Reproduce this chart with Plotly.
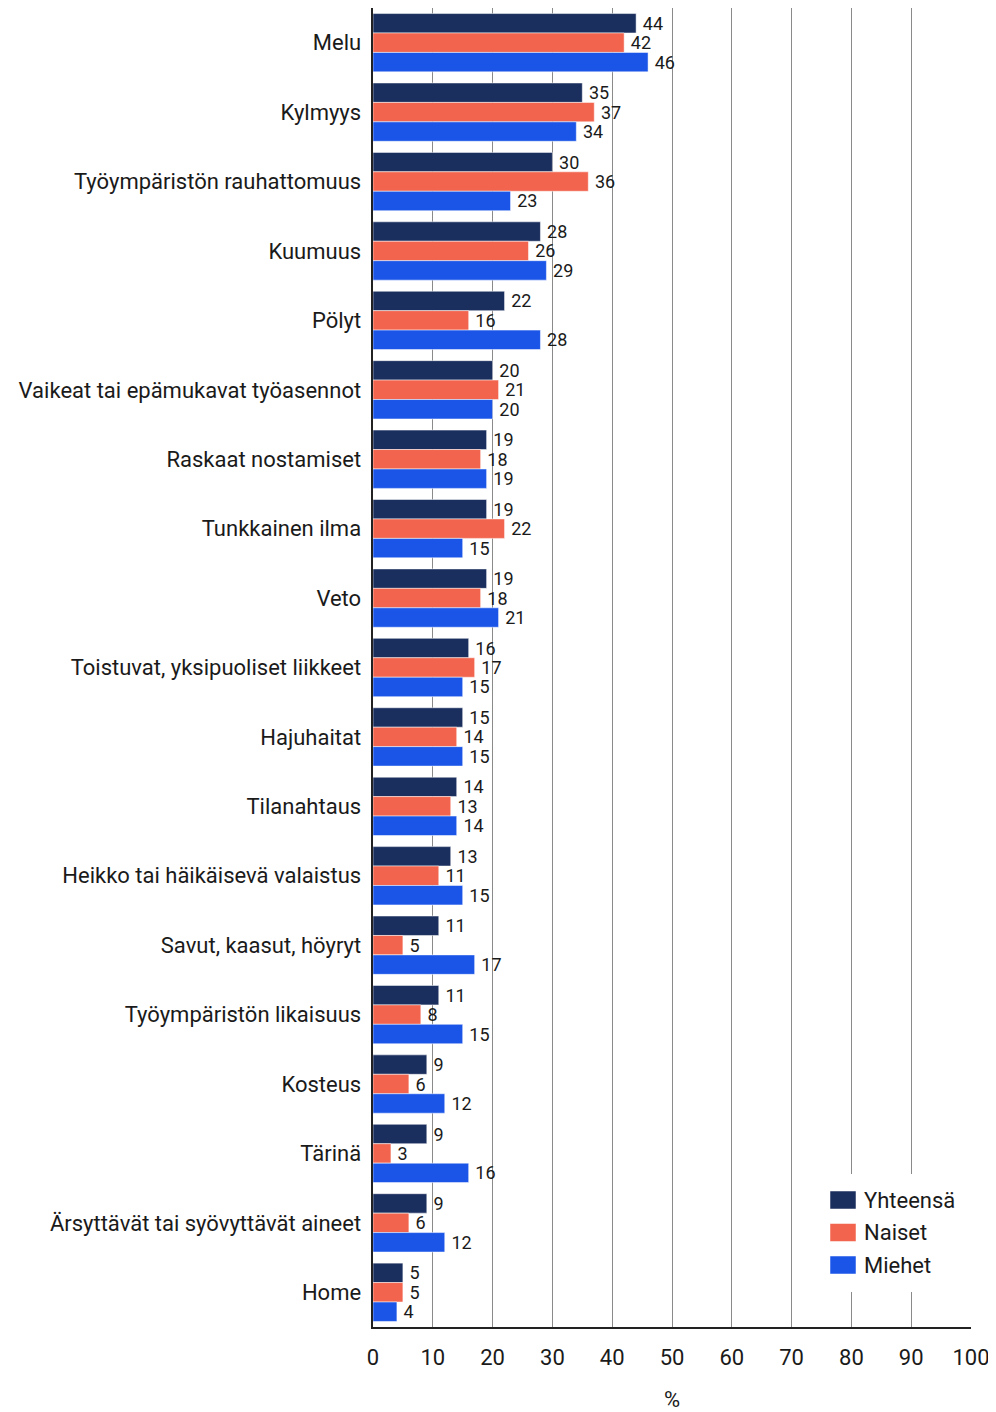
import plotly.graph_objects as go

categories = ["Melu", "Kylmyys", "Työympäristön rauhattomuus", "Kuumuus", "Pölyt",
              "Vaikeat tai epämukavat työasennot", "Raskaat nostamiset", "Tunkkainen ilma",
              "Veto", "Toistuvat, yksipuoliset liikkeet", "Hajuhaitat", "Tilanahtaus",
              "Heikko tai häikäisevä valaistus", "Savut, kaasut, höyryt",
              "Työympäristön likaisuus", "Kosteus", "Tärinä",
              "Ärsyttävät tai syövyttävät aineet", "Home"]
yhteensa = [44, 35, 30, 28, 22, 20, 19, 19, 19, 16, 15, 14, 13, 11, 11, 9, 9, 9, 5]
naiset = [42, 37, 36, 26, 16, 21, 18, 22, 18, 17, 14, 13, 11, 5, 8, 6, 3, 6, 5]
miehet = [46, 34, 23, 29, 28, 20, 19, 15, 21, 15, 15, 14, 15, 17, 15, 12, 16, 12, 4]
series_names = ["Yhteensä", "Naiset", "Miehet"]
colors = ["#1b2f5e", "#f2644d", "#1a55e8"]
x_ticks = [0, 10, 20, 30, 40, 50, 60, 70, 80, 90, 100]

FONT = "Roboto"
TXT = "#1a1a1a"
fig = go.Figure()
for name, vals, col in zip(series_names, [yhteensa, naiset, miehet], colors):
    fig.add_trace(go.Bar(
        y=categories, x=vals, name=name, orientation="h",
        marker=dict(color=col, line=dict(color="white", width=0.5)),
        text=["\u2009" + str(v) for v in vals], textposition="outside",
        constraintext="none",
        textfont=dict(family=FONT, size=18, color=TXT),
        cliponaxis=False, showlegend=False,
    ))

# Manual legend (box + colour swatches + labels), in paper coordinates
W, H = 988, 1404
ML, MR, MT, MB = 365, 25, 0, 85
PW = W - ML - MR
PH = H - MT - MB

def px_x(x):
    return (x - 8 - ML) / PW

def px_y(y):
    return 1 - (y - 8 - MT) / PH

shapes = [dict(type="rect", xref="paper", yref="paper",
               x0=px_x(818), x1=px_x(968), y0=px_y(1292), y1=px_y(1174),
               fillcolor="white", line=dict(width=0), layer="above")]
annotations = []
for i, (name, col) in enumerate(zip(series_names, colors)):
    yc = 1200 + i * 32.5
    shapes.append(dict(type="rect", xref="paper", yref="paper",
                       x0=px_x(830), x1=px_x(856), y0=px_y(yc + 9), y1=px_y(yc - 9),
                       fillcolor=col, line=dict(color="white", width=0.5), layer="above"))
    annotations.append(dict(xref="paper", yref="paper", x=px_x(862), y=px_y(yc),
                            text=name, showarrow=False, xanchor="left", yanchor="middle",
                            font=dict(family=FONT, size=22, color=TXT)))

fig.update_layout(
    width=W, height=H,
    margin=dict(l=ML, r=MR, t=MT, b=MB),
    barmode="group", bargap=0.16, bargroupgap=0,
    plot_bgcolor="white", paper_bgcolor="white",
    font=dict(family=FONT, size=20, color=TXT),
    showlegend=False,
    shapes=shapes, annotations=annotations,
    xaxis=dict(range=[0, 100], tickvals=x_ticks, showgrid=True, gridcolor="#8a8a8a",
               gridwidth=1, showline=True, linecolor="#222", linewidth=2,
               zeroline=False, ticks="", tickfont=dict(family=FONT, size=22),
               ticklabelstandoff=10, automargin=False,
               title=dict(text="%", font=dict(family=FONT, size=22), standoff=26)),
    yaxis=dict(autorange="reversed", showline=True, linecolor="#222", linewidth=2,
               ticks="", showgrid=False, tickfont=dict(family=FONT, size=22),
               automargin=False, ticksuffix=" "),
)
fig.write_html("out.html")
